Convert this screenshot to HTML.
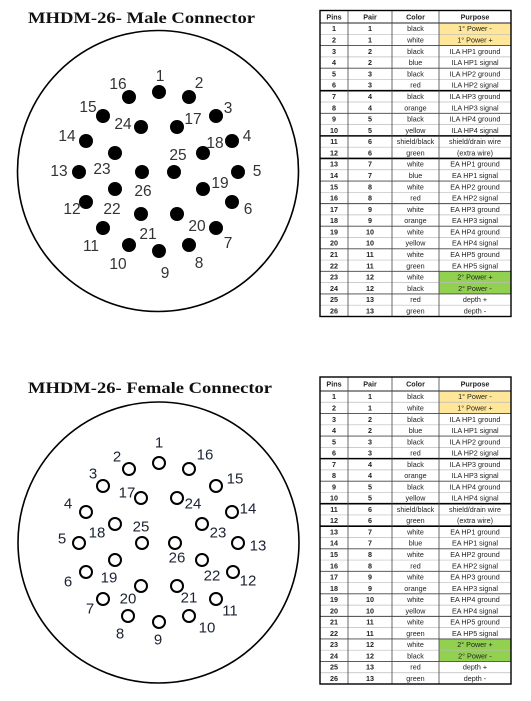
<!DOCTYPE html>
<html><head><meta charset="utf-8"><style>
html,body{margin:0;padding:0;background:#fff;}
svg{display:block;}
</style></head><body>
<svg id="s" width="531" height="701" viewBox="0 0 531 701" xmlns="http://www.w3.org/2000/svg">
<rect width="531" height="701" fill="#fff"/>
<text x="28" y="23" font-family="Liberation Serif, serif" font-weight="bold" font-size="16" textLength="227" lengthAdjust="spacingAndGlyphs" fill="#111">MHDM-26- Male Connector</text>
<text x="28" y="393" font-family="Liberation Serif, serif" font-weight="bold" font-size="16" textLength="244" lengthAdjust="spacingAndGlyphs" fill="#111">MHDM-26- Female Connector</text>
<circle cx="158" cy="171" r="140.5" fill="none" stroke="#000" stroke-width="1.6"/>
<circle cx="158.5" cy="542.5" r="140.5" fill="none" stroke="#000" stroke-width="1.6"/>
<g id="g"></g>
</svg>
<script>
const malePins=[[1,159,92,160,75],[2,189,97,199,82],[3,216,116,228,107],[4,232,141,247,135],[5,238,172,257,170],[6,232,202,248,208],[7,216,228,228,242],[8,189,245,199,262],[9,159,251,165,272],[10,129,245,118,263],[11,103,228,91,245],[12,86,202,72,208],[13,79,172,59,170],[14,86,141,67,135],[15,103,116,88,106],[16,129,97,118,83],[17,177,127,193,118],[18,203,153,215,142],[19,203,189,220,182],[20,177,214,197,225],[21,141,214,148,233],[22,115,189,112,208],[23,115,153,102,168],[24,141,127,123,123],[25,174,172,178,154],[26,142,172,143,190]];
const femalePins=[[1,159,463,159,442],[2,129,469,117,456],[3,103,486,93,473],[4,86,512,68,503],[5,79,543,62,538],[6,86,572,68,581],[7,103,599,90,608],[8,128,616,120,633],[9,159,622,158,639],[10,189,616,207,627],[11,216,599,230,610],[12,233,572,248,580],[13,238,543,258,545],[14,232,512,248,508],[15,216,486,235,478],[16,189,469,205,454],[17,141,498,127,492],[18,115,524,97,532],[19,115,560,109,577],[20,141,586,128,598],[21,177,586,189,597],[22,202,560,212,575],[23,202,524,218,532],[24,177,498,193,503],[25,142,543,141,526],[26,175,543,177,557]];
const pins=["1","2","3","4","5","6","7","8","9","10","11","12","13","14","15","16","17","18","19","20","21","22","23","24","25","26"];
const pairs=["1","1","2","2","3","3","4","4","5","5","6","6","7","7","8","8","9","9","10","10","11","11","12","12","13","13"];
const colors=["black","white","black","blue","black","red","black","orange","black","yellow","shield/black","green","white","blue","white","red","white","orange","white","yellow","white","green","white","black","red","green"];
const purposes=["1° Power -","1° Power +","ILA HP1 ground","ILA HP1 signal","ILA HP2 ground","ILA HP2 signal","ILA HP3 ground","ILA HP3 signal","ILA HP4 ground","ILA HP4 signal","shield/drain wire","(extra wire)","EA HP1 ground","EA HP1 signal","EA HP2 ground","EA HP2 signal","EA HP3 ground","EA HP3 signal","EA HP4 ground","EA HP4 signal","EA HP5 ground","EA HP5 signal","2° Power +","2° Power -","depth +","depth -"];
const NS="http://www.w3.org/2000/svg";
const g=document.getElementById('g');
function mk(t,a){const e=document.createElementNS(NS,t);for(const k in a)e.setAttribute(k,a[k]);g.appendChild(e);return e;}
malePins.forEach(p=>{
 const c=mk('circle',{cx:p[1],cy:p[2],r:7,fill:'#000'});
 
 
 const t=mk('text',{x:p[3],y:p[4]+6,'text-anchor':'middle','font-family':'Liberation Sans, sans-serif','font-size':15.5,fill:'#333'});
 t.textContent=p[0];
 
 
});
femalePins.forEach(p=>{
 const c=mk('circle',{cx:p[1],cy:p[2],r:6,fill:'none',stroke:'#000','stroke-width':2});
 
 
 const t=mk('text',{x:p[3],y:p[4]+5.5,'text-anchor':'middle','font-family':'Liberation Sans, sans-serif','font-size':15,fill:'#1c2333'});
 t.textContent=p[0];
 
 
});
function table(prefix,top,hh,bottom){
 const x0=320,x1=511,cols=[320,348,392,439,511];
 const rh=(bottom-top-hh)/26;
 mk('rect',{x:x0,y:top,width:x1-x0,height:bottom-top,fill:'#fff'});
 for(let i=0;i<26;i++){
  const y=top+hh+i*rh;
  if(i<2){mk('rect',{x:439,y:y,width:72,height:rh,fill:'#FFE699'});}
  if(i==22||i==23){mk('rect',{x:439,y:y,width:72,height:rh,fill:'#92D050'});}
 }
 const hd=["Pins","Pair","Color","Purpose"];
 hd.forEach((h,j)=>{const t=mk('text',{x:(cols[j]+cols[j+1])/2,y:top+hh/2+2.7,'text-anchor':'middle','font-family':'Liberation Sans, sans-serif','font-size':7.2,'font-weight':'bold',fill:'#222'});t.textContent=h;
 
 });
 for(let i=0;i<26;i++){
  const y=top+hh+i*rh;
  const vals=[pins[i],pairs[i],colors[i],purposes[i]];
  vals.forEach((v,j)=>{const t=mk('text',{x:(cols[j]+cols[j+1])/2,y:y+rh/2+2.6,'text-anchor':'middle','font-family':'Liberation Sans, sans-serif','font-size':7.2,'font-weight':(j<2?'bold':'normal'),fill:'#222'});t.textContent=v;
  
  });
  if(i>0){
   const thick=(i==6||i==10||i==12);
   const pairB=(i%2==0);
   mk('line',{x1:x0,x2:x1,y1:y,y2:y,stroke:thick?'#000':(pairB?'#444':'#bbb'),'stroke-width':thick?1.6:(pairB?0.9:0.7)});
  }
 }
 mk('line',{x1:x0,x2:x1,y1:top+hh,y2:top+hh,stroke:'#222','stroke-width':1});
 cols.slice(1,4).forEach(c=>mk('line',{x1:c,x2:c,y1:top,y2:bottom,stroke:'#444','stroke-width':0.8}));
 const b=mk('rect',{x:x0,y:top,width:x1-x0,height:bottom-top,fill:'none',stroke:'#000','stroke-width':1.4});
 
 
}
table('male',10.5,12.5,316.5);
table('female',377,14,684);
</script>
</body></html>
